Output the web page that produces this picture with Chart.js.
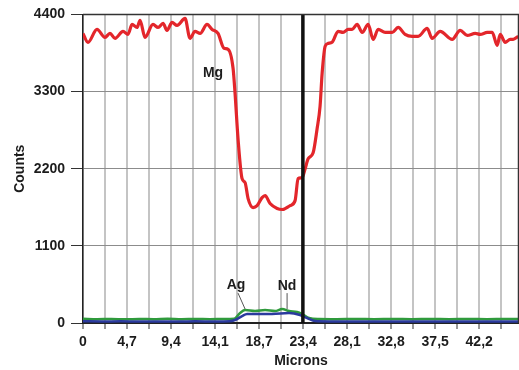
<!DOCTYPE html>
<html>
<head>
<meta charset="utf-8">
<script src="https://cdn.jsdelivr.net/npm/chart.js@4.4.0/dist/chart.umd.min.js"></script>
<style>
  html, body { margin: 0; padding: 0; background: #fff; }
  #wrap { width: 519px; height: 370px; }
</style>
</head>
<body>
<div id="wrap"><canvas id="myChart" width="519" height="370"></canvas></div>
<script>
// tick labels as printed on the original
let xTickLabels = ['0', '4,7', '9,4', '14,1', '18,7', '23,4', '28,1', '32,8', '37,5', '42,2'];
let xStep = 2.3425;   // half of a labelled step, every gridline
let yTicks = [0, 1100, 2200, 3300, 4400];

// Mg profile (microns, counts)
let mgMicrons = [0, 0.53, 1.49, 2.34, 2.87, 3.41, 4.26, 4.79, 5.22, 5.75, 6.07, 6.60, 7.45, 7.99, 8.52, 8.94,
  9.48, 10.01, 10.86, 11.39, 11.92, 12.46, 13.20, 13.74, 14.37, 15.01, 15.44, 15.97, 16.18, 16.50, 16.93,
  17.25, 17.57, 18.10, 18.53, 19.06, 19.38, 19.91, 20.66, 21.19, 22.04, 22.57, 22.89, 23.32, 23.64, 23.96,
  24.49, 24.91, 25.23, 25.45, 25.77, 26.09, 26.51, 27.15, 27.68, 28.22, 28.64, 29.17, 29.71, 30.35, 30.88,
  31.41, 32.16, 32.90, 33.54, 34.28, 35.03, 35.67, 36.63, 37.16, 38.01, 39.29, 40.14, 40.89, 41.74, 42.27,
  43.02, 43.55, 44.08, 44.40, 44.93, 45.46, 45.78, 46.32];
let mgCounts = [4129, 4002, 4186, 4073, 4129, 4058, 4158, 4115, 4257, 4214, 4314, 4073, 4257, 4214, 4271, 4172,
  4285, 4243, 4342, 4058, 4158, 4129, 4257, 4186, 4129, 3916, 3902, 3633, 3278, 2625, 2058,
  2001, 1774, 1646, 1674, 1788, 1816, 1703, 1632, 1618, 1674, 1745, 2058, 2072, 2199, 2341,
  2426, 2767, 3093, 3562, 3945, 3987, 4002, 4158, 4143, 4186, 4186, 4257, 4143, 4257, 4044,
  4186, 4143, 4143, 4214, 4115, 4087, 4087, 4200, 4058, 4158, 4044, 4172, 4101, 4129, 4115,
  4143, 4143, 3959, 4115, 4002, 4044, 4044, 4087];

// Ag profile
let agMicrons = [0, 1.5, 3, 4.5, 6, 7.5, 9, 10.5, 12, 13.5, 15, 16.08, 16.72, 17.25, 18.31, 19.38, 20.44,
  21.19, 21.93, 22.78, 23.32, 24.06, 25.13, 27, 29, 31, 33, 35, 37, 39, 41, 43, 45, 46.4];
let agCounts = [60, 55, 58, 52, 57, 55, 60, 54, 58, 55, 57, 60, 142, 184, 170, 184, 170,
  199, 170, 156, 128, 71, 57, 55, 58, 54, 57, 55, 58, 54, 57, 55, 58, 56];

// Nd profile
let ndMicrons = [0, 2, 4, 6, 8, 10, 12, 14, 15.6, 16.18, 16.93, 17.46, 20.12, 21.93, 23.10, 23.85, 24.70,
  26.5, 29, 32, 35, 38, 41, 44, 46.4];
let ndCounts = [25, 22, 24, 20, 23, 21, 24, 22, 25, 43, 99, 128, 128, 142, 114, 71, 28,
  22, 20, 23, 21, 22, 20, 23, 22];

// interface marker
let markerMicron = 23.4;

function pts(xs, ys) {
  return xs.map((x, i) => ({ x: x, y: ys[i] }));
}

let font = { family: "'Liberation Sans', Arial, sans-serif", weight: 'bold', size: 14 };
let ink = '#1c1c1c';

// element labels: [text, micron, counts, leader from, leader to]
let notes = [
  ['Mg', 13.84, 3562, null, null],
  ['Ag', 16.29, 540, [16.5, 426], [17.25, 199]],
  ['Nd', 21.72, 525, [21.72, 426], [21.72, 199]]
];

let annotate = {
  id: 'annotate',
  afterDatasetsDraw(chart) {
    let c = chart.ctx, xs = chart.scales.x, ys = chart.scales.y, a = chart.chartArea;
    c.save();
    // frame top/right
    c.strokeStyle = '#333';
    c.lineWidth = 1.5;
    c.beginPath();
    c.moveTo(a.left, a.top);
    c.lineTo(a.right - 0.5, a.top);
    c.lineTo(a.right - 0.5, a.bottom);
    c.stroke();
    c.font = 'bold 14px "Liberation Sans", Arial, sans-serif';
    c.fillStyle = ink;
    c.textAlign = 'center';
    c.textBaseline = 'middle';
    notes.forEach(n => {
      c.fillText(n[0], xs.getPixelForValue(n[1]), ys.getPixelForValue(n[2]));
      if (n[3]) {
        c.strokeStyle = '#555';
        c.lineWidth = 1;
        c.beginPath();
        c.moveTo(xs.getPixelForValue(n[3][0]), ys.getPixelForValue(n[3][1]));
        c.lineTo(xs.getPixelForValue(n[4][0]), ys.getPixelForValue(n[4][1]));
        c.stroke();
      }
    });
    c.restore();
  }
};

let ctx = document.getElementById('myChart').getContext('2d');

let myChart = new Chart(ctx, {
  type: 'line',
  data: {
    datasets: [{
      label: 'marker',
      data: [{ x: markerMicron, y: 0 }, { x: markerMicron, y: 4400 }],
      borderColor: '#111',
      borderWidth: 3.5,
      tension: 0,
      order: 0
    }, {
      label: 'Nd',
      data: pts(ndMicrons, ndCounts),
      borderColor: '#2b3a9e',
      borderWidth: 2.5,
      cubicInterpolationMode: 'monotone',
      order: 1
    }, {
      label: 'Ag',
      data: pts(agMicrons, agCounts),
      borderColor: '#2f9a3c',
      borderWidth: 2.5,
      cubicInterpolationMode: 'monotone',
      order: 2
    }, {
      label: 'Mg',
      data: pts(mgMicrons, mgCounts),
      borderColor: '#e3262b',
      borderWidth: 3.2,
      cubicInterpolationMode: 'monotone',
      order: 3
    }]
  },
  options: {
    responsive: false,
    animation: false,
    layout: { padding: { top: 13, right: 0, left: 0, bottom: 0 } },
    elements: { point: { radius: 0 } },
    plugins: {
      legend: { display: false },
      tooltip: { enabled: false }
    },
    scales: {
      x: {
        type: 'linear',
        min: 0,
        max: 46.4,
        afterFit: (s) => { s.height = 47; },
        afterBuildTicks: (s) => {
          let t = [];
          for (let i = 0; i * xStep <= 46.4; i++) t.push({ value: i * xStep });
          s.ticks = t;
        },
        border: { color: '#222', width: 2 },
        grid: {
          color: '#c4c4c4',
          lineWidth: 2,
          tickLength: 6,
          tickColor: '#333',
          tickWidth: 1
        },
        ticks: {
          autoSkip: false,
          maxRotation: 0,
          padding: 5,
          color: ink,
          font: font,
          callback: (v, i) => (i % 2 === 0 ? xTickLabels[i / 2] : '')
        },
        title: {
          display: true,
          text: 'Microns',
          color: ink,
          font: font,
          padding: { top: 0, bottom: 0 }
        }
      },
      y: {
        min: 0,
        max: 4400,
        afterFit: (s) => { s.width = 83; },
        afterBuildTicks: (s) => { s.ticks = yTicks.map(v => ({ value: v })); },
        border: { color: '#222', width: 1.5 },
        grid: {
          color: (c) => (c.index === yTicks.length - 1 ? '#333' : '#8c8c8c'),
          lineWidth: 1,
          tickLength: 12,
          tickColor: '#333'
        },
        ticks: {
          padding: 6,
          color: ink,
          font: font,
          callback: (v) => String(v)
        },
        title: {
          display: true,
          text: 'Counts',
          color: ink,
          font: font,
          padding: { top: 12, bottom: 0 }
        }
      }
    }
  },
  plugins: [annotate]
});
</script>
</body>
</html>
